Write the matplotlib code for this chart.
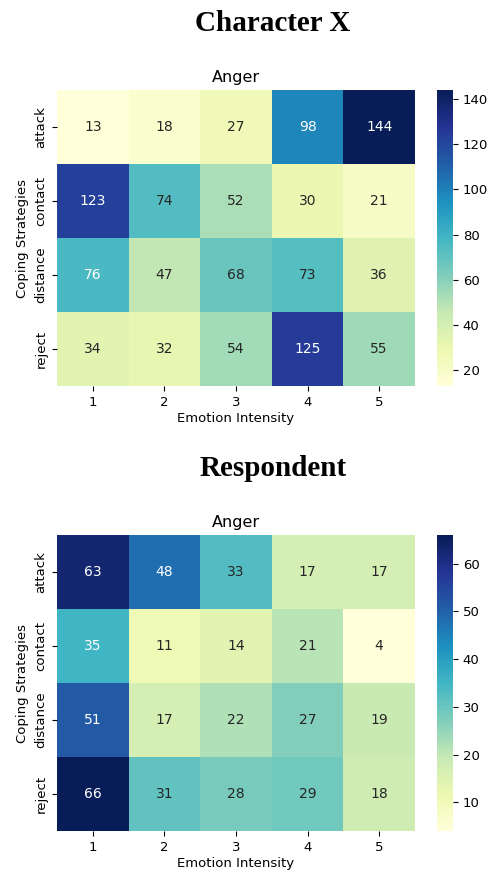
import matplotlib
matplotlib.use("Agg")
import matplotlib.pyplot as plt
import seaborn as sns
import numpy as np

strategies = ["attack", "contact", "distance", "reject"]
intensities = ["1", "2", "3", "4", "5"]

character_x = [
    [13, 18, 27, 98, 144],
    [123, 74, 52, 30, 21],
    [76, 47, 68, 73, 36],
    [34, 32, 54, 125, 55],
]
respondent = [
    [63, 48, 33, 17, 17],
    [35, 11, 14, 21, 4],
    [51, 17, 22, 27, 19],
    [66, 31, 28, 29, 18],
]

fig = plt.figure(figsize=(4.9, 8.72), dpi=100)

panels = [
    ("Character X", character_x, 0.5573, 0.9736),
    ("Respondent", respondent, 0.0470, 0.4633),
]
for name, data, bottom, ty in panels:
    ax = fig.add_axes([0.1163, bottom, 0.7306, 0.3394])
    cax = fig.add_axes([0.8918, bottom, 0.0327, 0.3394])
    sns.heatmap(np.array(data), ax=ax, cbar_ax=cax, cmap="YlGnBu",
                annot=True, fmt="d", xticklabels=intensities,
                yticklabels=strategies, annot_kws={"size": 10})
    ax.set_yticklabels(strategies, rotation=90, va="center", fontsize=9.5)
    ax.set_xticklabels(intensities, rotation=0, fontsize=9.5)
    cax.tick_params(labelsize=9.5)
    ax.set_title("Anger", fontsize=11.5)
    ax.set_xlabel("Emotion Intensity", fontsize=9.5, labelpad=2.5)
    ax.set_ylabel("Coping Strategies", fontsize=9.5)
    fig.text(0.557, ty, name, ha="center", va="center",
             fontsize=21, fontweight="bold", family="Liberation Serif")

fig.savefig("out.png", dpi=100)
